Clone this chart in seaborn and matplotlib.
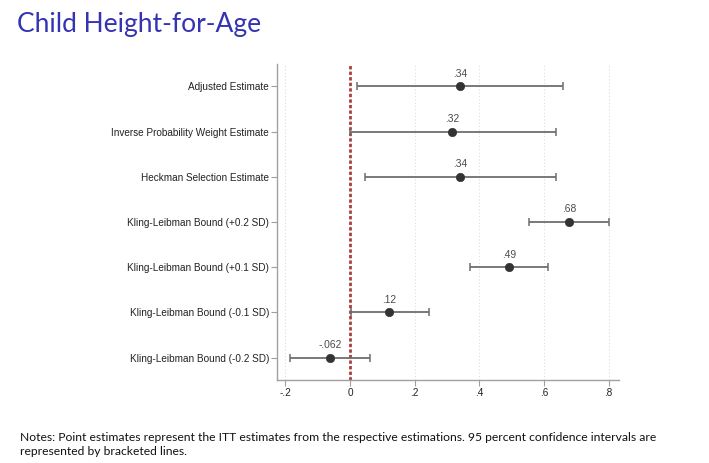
import matplotlib
matplotlib.use("Agg")
import matplotlib.pyplot as plt
import seaborn as sns
import pandas as pd

labels = [
    "Adjusted Estimate",
    "Inverse Probability Weight Estimate",
    "Heckman Selection Estimate",
    "Kling-Leibman Bound (+0.2 SD)",
    "Kling-Leibman Bound (+0.1 SD)",
    "Kling-Leibman Bound (-0.1 SD)",
    "Kling-Leibman Bound (-0.2 SD)",
]
estimates = [0.340, 0.316, 0.341, 0.678, 0.492, 0.122, -0.062]
ci_low = [0.022, 0.001, 0.047, 0.555, 0.371, 0.002, -0.185]
ci_high = [0.659, 0.636, 0.637, 0.800, 0.614, 0.245, 0.062]
xticks = [-0.2, 0, 0.2, 0.4, 0.6, 0.8]
xticklabels = ["-.2", "0", ".2", ".4", ".6", ".8"]


def stata_fmt(v):
    s = "%.2g" % v
    return s.replace("0.", ".", 1)


df = pd.DataFrame({"label": labels, "est": estimates, "lo": ci_low, "hi": ci_high})

sns.set_style("white")
plt.rcParams["font.family"] = ["Liberation Sans", "DejaVu Sans"]

fig = plt.figure(figsize=(7.09, 4.63), dpi=100)
ax = fig.add_axes([0.391, 0.179, 0.482, 0.683])

for x in xticks:
    ax.axvline(x, color="#dcdcdc", lw=0.8, ls=(0, (1, 2)), zorder=0)

ax.axvline(0, color="#a8413f", lw=2.0, ls=(0, (1.2, 0.8)), zorder=1)

ypos = list(range(len(labels)))
ax.errorbar(df["est"], ypos,
            xerr=[df["est"] - df["lo"], df["hi"] - df["est"]],
            fmt="none", ecolor="#6e6e6e", elinewidth=1.3, capsize=3,
            capthick=1.1, zorder=2)

sns.scatterplot(data=df, x="est", y="label", ax=ax, color="#333333",
                s=36, edgecolor="#333333", linewidth=0.5, zorder=3,
                legend=False)

for i, v in enumerate(estimates):
    ax.annotate(stata_fmt(v), (v, i), xytext=(0, 5.5), textcoords="offset points",
                ha="center", va="bottom", fontsize=7.4, color="#4a4a4a")

ax.set_xlim(-0.225, 0.832)
ax.set_ylim(6.5, -0.5)
ax.set_xticks(xticks)
ax.set_xticklabels(xticklabels)
ax.set_yticks(ypos)
ax.set_yticklabels(labels)
ax.set_xlabel("")
ax.set_ylabel("")

for side in ["top", "right"]:
    ax.spines[side].set_visible(False)
for side in ["left", "bottom"]:
    ax.spines[side].set_color("#a0a0a0")
    ax.spines[side].set_linewidth(1.0)
ax.tick_params(axis="both", which="both", length=4, width=0.8, color="#a0a0a0",
               labelsize=7.2, labelcolor="#222222", pad=2, left=True, bottom=True)

fig.text(0.024, 0.93, "Child Height-for-Age", fontsize=19, color="#3333b3",
         family=["Lato", "DejaVu Sans"], ha="left", va="baseline")

fig.text(0.028, 0.0475,
         "Notes: Point estimates represent the ITT estimates from the respective estimations. 95 percent confidence intervals are",
         fontsize=8.7, color="#111111", family=["Lato", "DejaVu Sans"],
         ha="left", va="baseline")
fig.text(0.028, 0.0173, "represented by bracketed lines.",
         fontsize=8.7, color="#111111", family=["Lato", "DejaVu Sans"],
         ha="left", va="baseline")

fig.savefig("out.png", dpi=100)
